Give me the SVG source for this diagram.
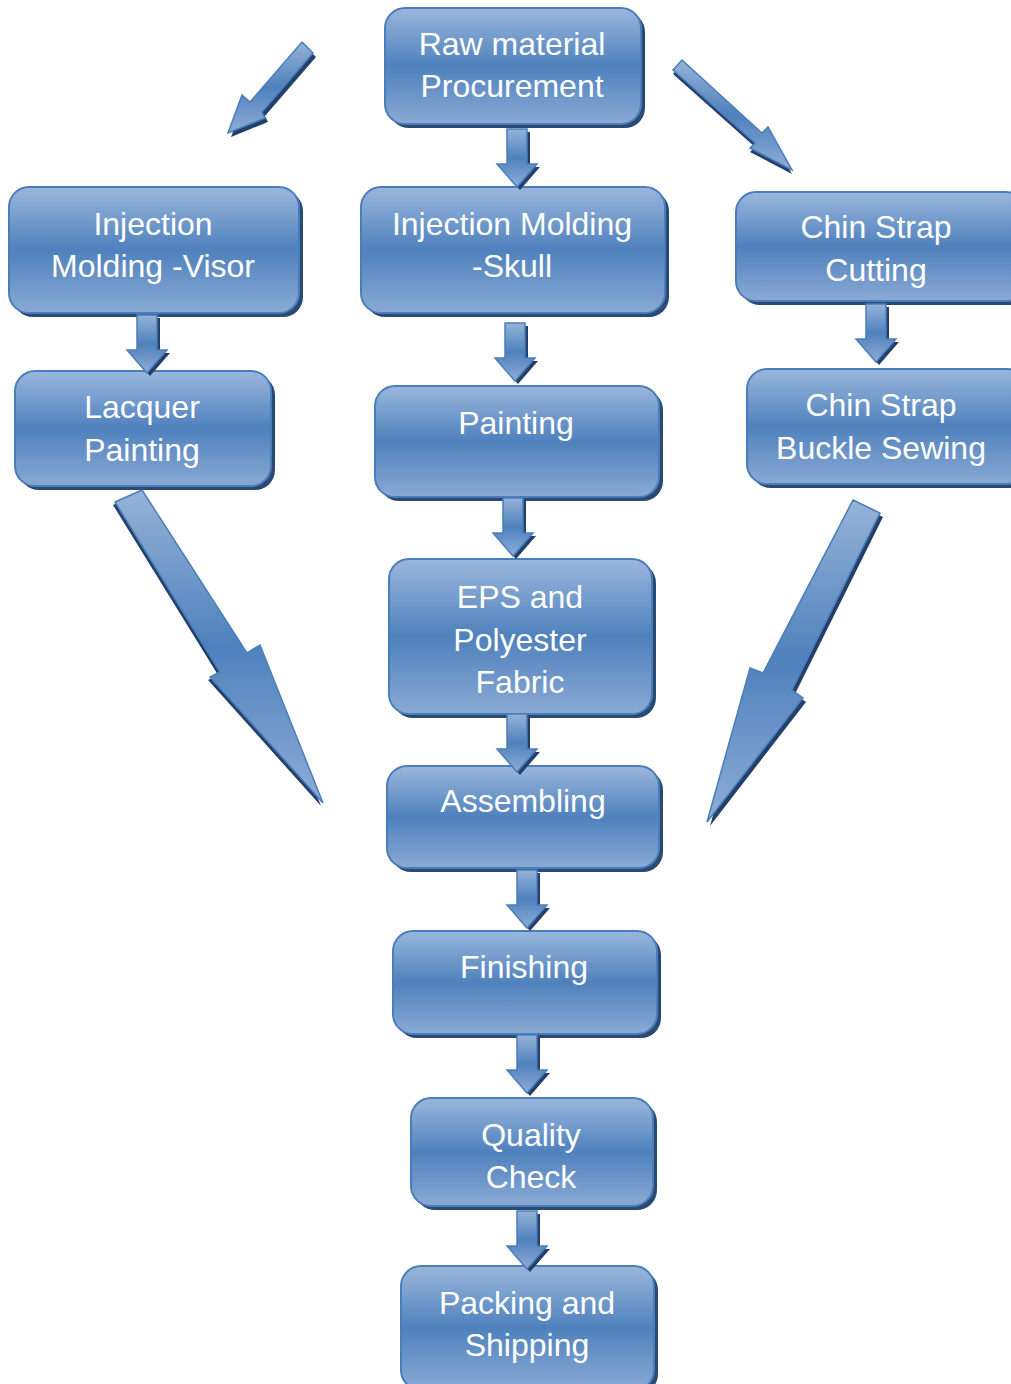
<svg xmlns="http://www.w3.org/2000/svg" xmlns:xlink="http://www.w3.org/1999/xlink" width="1011" height="1384" viewBox="0 0 1011 1384">
<defs>
<linearGradient id="gb" x1="0" y1="0" x2="0" y2="1">
<stop offset="0" stop-color="#9ab7dc"/>
<stop offset="0.5" stop-color="#4f81bd"/>
<stop offset="1" stop-color="#8aaad4"/>
</linearGradient>
<linearGradient id="ga" x1="0" y1="0" x2="0" y2="1">
<stop offset="0" stop-color="#95b3d7"/>
<stop offset="0.5" stop-color="#4f81bd"/>
<stop offset="1" stop-color="#8eadd6"/>
</linearGradient>
<g id="da">
<path class="ash" d="M-10,0 H10 V35 H20 L0,58 L-20,35 H-10 Z" transform="translate(3,3)"/>
<path class="af" d="M-10,0 H10 V35 H20 L0,58 L-20,35 H-10 Z"/>
</g>
</defs>
<style>
.sh{fill:#2a4a73}
.bx{fill:url(#gb);stroke:#4a7ebb;stroke-width:2}
.ash{fill:#24406a}
.af{fill:url(#ga);stroke:#4a7ebb;stroke-width:1.5}
text{font-family:"Liberation Sans",Arial,sans-serif;font-size:32px;fill:#ffffff;text-anchor:middle}
</style>
<rect width="1011" height="1384" fill="#ffffff"/>

<g id="n1">
<rect class="sh" x="389" y="12" width="256" height="116" rx="20"/>
<rect class="bx" x="385" y="8" width="256" height="116" rx="20"/>
<text x="512" y="55">Raw material</text>
<text x="512" y="97">Procurement</text>
</g>
<g id="n2">
<rect class="sh" x="13" y="191" width="290" height="126" rx="20"/>
<rect class="bx" x="9" y="187" width="290" height="126" rx="20"/>
<text x="153" y="235">Injection</text>
<text x="153" y="277">Molding -Visor</text>
</g>
<g id="n3">
<rect class="sh" x="365" y="191" width="304" height="126" rx="20"/>
<rect class="bx" x="361" y="187" width="304" height="126" rx="20"/>
<text x="512" y="235">Injection Molding</text>
<text x="512" y="277">-Skull</text>
</g>
<g id="n4">
<rect class="sh" x="740" y="196" width="290" height="109" rx="20"/>
<rect class="bx" x="736" y="192" width="290" height="109" rx="20"/>
<text x="876" y="238">Chin Strap</text>
<text x="876" y="281">Cutting</text>
</g>
<g id="n5">
<rect class="sh" x="19" y="375" width="256" height="115" rx="20"/>
<rect class="bx" x="15" y="371" width="256" height="115" rx="20"/>
<text x="142" y="418">Lacquer</text>
<text x="142" y="461">Painting</text>
</g>
<g id="n6">
<rect class="sh" x="379" y="390" width="284" height="111" rx="20"/>
<rect class="bx" x="375" y="386" width="284" height="111" rx="20"/>
<text x="516" y="434">Painting</text>
</g>
<g id="n7">
<rect class="sh" x="751" y="373" width="280" height="115" rx="20"/>
<rect class="bx" x="747" y="369" width="280" height="115" rx="20"/>
<text x="881" y="416">Chin Strap</text>
<text x="881" y="459">Buckle Sewing</text>
</g>
<g id="n8">
<rect class="sh" x="393" y="563" width="263" height="155" rx="20"/>
<rect class="bx" x="389" y="559" width="263" height="155" rx="20"/>
<text x="520" y="608">EPS and</text>
<text x="520" y="651">Polyester</text>
<text x="520" y="693">Fabric</text>
</g>
<g id="n9">
<rect class="sh" x="391" y="770" width="272" height="102" rx="20"/>
<rect class="bx" x="387" y="766" width="272" height="102" rx="20"/>
<text x="523" y="812">Assembling</text>
</g>
<g id="n10">
<rect class="sh" x="397" y="935" width="264" height="103" rx="20"/>
<rect class="bx" x="393" y="931" width="264" height="103" rx="20"/>
<text x="524" y="978">Finishing</text>
</g>
<g id="n11">
<rect class="sh" x="415" y="1102" width="242" height="108" rx="20"/>
<rect class="bx" x="411" y="1098" width="242" height="108" rx="20"/>
<text x="531" y="1146">Quality</text>
<text x="531" y="1188">Check</text>
</g>
<g id="n12">
<rect class="sh" x="405" y="1270" width="253" height="124" rx="20"/>
<rect class="bx" x="401" y="1266" width="253" height="124" rx="20"/>
<text x="527" y="1314">Packing and</text>
<text x="527" y="1356">Shipping</text>
</g>

<g id="connectors">
<use xlink:href="#da" x="517" y="129"/>
<use xlink:href="#da" x="147" y="315"/>
<use xlink:href="#da" x="515" y="323"/>
<use xlink:href="#da" x="876" y="304"/>
<use xlink:href="#da" x="513" y="498"/>
<use xlink:href="#da" x="517" y="714"/>
<use xlink:href="#da" x="527" y="870"/>
<use xlink:href="#da" x="527" y="1035"/>
<use xlink:href="#da" x="527" y="1211"/>
<g id="arrow-topleft">
<path class="ash" transform="translate(3,4)" d="M302,42 L313,53 L262,112 L265,118 L228,133 L242,95 L250,102 Z"/>
<path class="af" d="M302,42 L313,53 L262,112 L265,118 L228,133 L242,95 L250,102 Z"/>
</g>
<g id="arrow-topright">
<path class="ash" transform="translate(0,4)" d="M682,60 L673,70 L755,143 L750,148 L792,170 L768,127 L762,133 Z"/>
<path class="af" d="M682,60 L673,70 L755,143 L750,148 L792,170 L768,127 L762,133 Z"/>
</g>
<g id="arrow-bigleft">
<path class="ash" transform="translate(-2,3)" d="M115,502 L142,490 L247,653 L260,645 L323,803 L210,677 L220,672 Z"/>
<path class="af" d="M115,502 L142,490 L247,653 L260,645 L323,803 L210,677 L220,672 Z"/>
</g>
<g id="arrow-bigright">
<path class="ash" transform="translate(3,4)" d="M853,500 L880,513 L792,690 L803,698 L707,822 L750,668 L763,673 Z"/>
<path class="af" d="M853,500 L880,513 L792,690 L803,698 L707,822 L750,668 L763,673 Z"/>
</g>
</g>
</svg>
